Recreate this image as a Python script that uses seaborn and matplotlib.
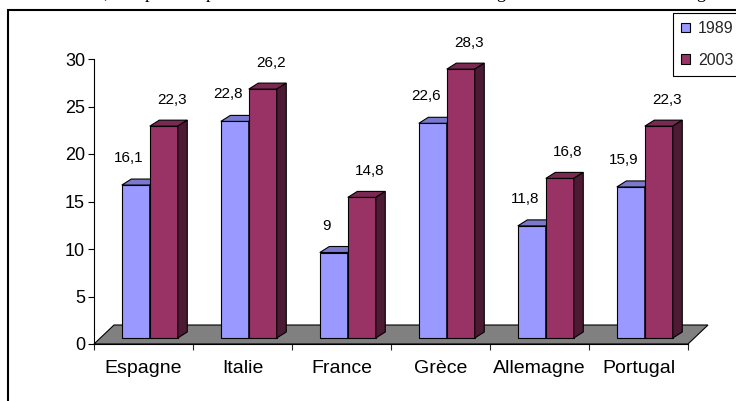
import numpy as np
import pandas as pd
import seaborn as sns
import matplotlib
matplotlib.use("Agg")
import matplotlib.pyplot as plt
from matplotlib.patches import Polygon, Rectangle, Patch
from matplotlib.transforms import Affine2D, IdentityTransform

# --- data -----------------------------------------------------------------
pays = ["Espagne", "Italie", "France", "Grèce", "Allemagne", "Portugal"]
annees = ["1989", "2003"]
part_1989 = [16.1, 22.8, 9, 22.6, 11.8, 15.9]
part_2003 = [22.3, 26.2, 14.8, 28.3, 16.8, 22.3]
yticks = [0, 5, 10, 15, 20, 25, 30]

couleurs = {"1989": "#9999FF", "2003": "#993366"}
couleurs_dessus = {"1989": "#7A7ACC", "2003": "#7A2952"}
couleurs_cote = {"1989": "#4D4D80", "2003": "#4D1A33"}

df = pd.DataFrame({
    "pays": pays * 2,
    "annee": ["1989"] * len(pays) + ["2003"] * len(pays),
    "part": part_1989 + part_2003,
})

sns.set_style("white")
plt.rcParams["font.family"] = ["Liberation Sans", "DejaVu Sans"]

W, H = 736, 401
fig = plt.figure(figsize=(W / 100, H / 100), dpi=100)
fig.patch.set_facecolor("white")

# axis plane: x axis at y=344 px, 30 at y=59 px
ax = fig.add_axes([94 / W, (H - 344) / H, (688 - 94) / W, (344 - 59) / H])
sns.barplot(data=df, x="pays", y="part", hue="annee", order=pays,
            hue_order=annees, palette=couleurs, saturation=1, width=0.565,
            edgecolor="black", linewidth=0.8, errorbar=None, legend=False,
            ax=ax)
ax.set_xlim(-0.5, len(pays) - 0.5)
ax.set_ylim(0, 30)
ax.patch.set_visible(False)

bars = [p for p in ax.patches if isinstance(p, Rectangle) and p.get_height() > 0]
bars = sorted(bars, key=lambda p: p.get_x())

# oblique projection offsets (pixels): bar front plane and bar depth
FRONT = np.array([6.3, 6.0])
DEPTH = np.array([9.5, 6.0])
FLOOR = np.array([20.0, 19.0])
# value label offsets (pixels) from the top centre of each bar front
LABEL_OFF = {"1989": (-7, 27), "2003": (8, 26)}

def px(points):
    return ax.transData.transform(np.asarray(points, dtype=float))

# gray floor
floor_front = px([(-0.5, 0), (len(pays) - 0.5, 0)])
floor_pts = [floor_front[0], floor_front[1], floor_front[1] + FLOOR,
             floor_front[0] + FLOOR]
ax.add_patch(Polygon(floor_pts, closed=True, facecolor="#808080",
                     edgecolor="black", lw=0.8, transform=IdentityTransform(),
                     clip_on=False, zorder=1.5))

# 3D faces for each bar
for i, bar in enumerate(bars):
    annee = annees[i % 2]
    x0, w, h = bar.get_x(), bar.get_width(), bar.get_height()
    z = 2 + i * 0.1
    bar.set_transform(ax.transData + Affine2D().translate(*FRONT))
    bar.set_clip_on(False)
    bar.set_zorder(z)
    bl, br, tr, tl = px([(x0, 0), (x0 + w, 0), (x0 + w, h), (x0, h)]) + FRONT
    top = Polygon([tl, tr, tr + DEPTH, tl + DEPTH], closed=True,
                  facecolor=couleurs_dessus[annee], edgecolor="black", lw=0.8,
                  transform=IdentityTransform(), clip_on=False, zorder=z + 0.01)
    side = Polygon([br, tr, tr + DEPTH, br + DEPTH], closed=True,
                   facecolor=couleurs_cote[annee], edgecolor="black", lw=0.8,
                   transform=IdentityTransform(), clip_on=False, zorder=z + 0.02)
    ax.add_patch(top)
    ax.add_patch(side)
    label = f"{h:g}".replace(".", ",")
    dx, dy = LABEL_OFF[annee]
    ax.annotate(label, xy=(x0 + w / 2, h), xytext=(FRONT[0] + dx, FRONT[1] + dy),
                textcoords="offset pixels", ha="center", va="center",
                fontsize=11, color="black", zorder=5, annotation_clip=False)

# axes styling
for s in ["top", "right"]:
    ax.spines[s].set_visible(False)
for s in ["left", "bottom"]:
    ax.spines[s].set_color("black")
    ax.spines[s].set_linewidth(0.8)
    ax.spines[s].set_zorder(1.6)

ax.set_yticks(yticks)
ax.set_yticklabels([str(t) for t in yticks])
ax.tick_params(axis="y", direction="out", length=4, width=0.8, pad=2.5,
               labelsize=13, colors="black", left=True)
ax.set_xticks(np.arange(len(pays) + 1) - 0.5)
ax.set_xticklabels([""] * (len(pays) + 1))
ax.set_xticks(np.arange(len(pays)), minor=True)
ax.set_xticklabels(pays, minor=True)
ax.tick_params(axis="x", which="major", direction="out", length=4, width=0.8,
               bottom=True)
ax.tick_params(axis="x", which="minor", length=0, pad=11.5, labelsize=14,
               colors="black", bottom=True)
ax.set_xlabel("")
ax.set_ylabel("")

# legend
handles = [Patch(facecolor=couleurs[a], edgecolor="black", lw=0.8) for a in annees]
leg = fig.legend(handles, annees, loc="upper left",
                 bbox_to_anchor=(673 / W, 1 - 13 / H),
                 bbox_transform=fig.transFigure, frameon=True, fancybox=False,
                 edgecolor="black", framealpha=1, fontsize=11.5,
                 handlelength=0.55, handleheight=0.55, handletextpad=0.5,
                 borderpad=0.5, labelspacing=1.05, borderaxespad=0)
leg.get_frame().set_linewidth(0.8)

# outer frame of the chart area
fig.add_artist(Rectangle((8 / W, -0.05), 1.0, (H - 10) / H + 0.05,
                         transform=fig.transFigure, fill=False,
                         edgecolor="black", lw=1.5))

# end of the running text line above the chart
for mot, xpos, ha in [("secteurs,", 109, "right"), ("partie", 145, "left"),
                      ("plus", 206, "left"), ("grande", 496, "left"),
                      ("grand", 696, "left")]:
    fig.text(xpos / W, 1 + 2.5 / H, mot, fontfamily="Liberation Serif",
             fontsize=13, ha=ha, va="baseline", color="black")

fig.savefig("out.png", dpi=100)
